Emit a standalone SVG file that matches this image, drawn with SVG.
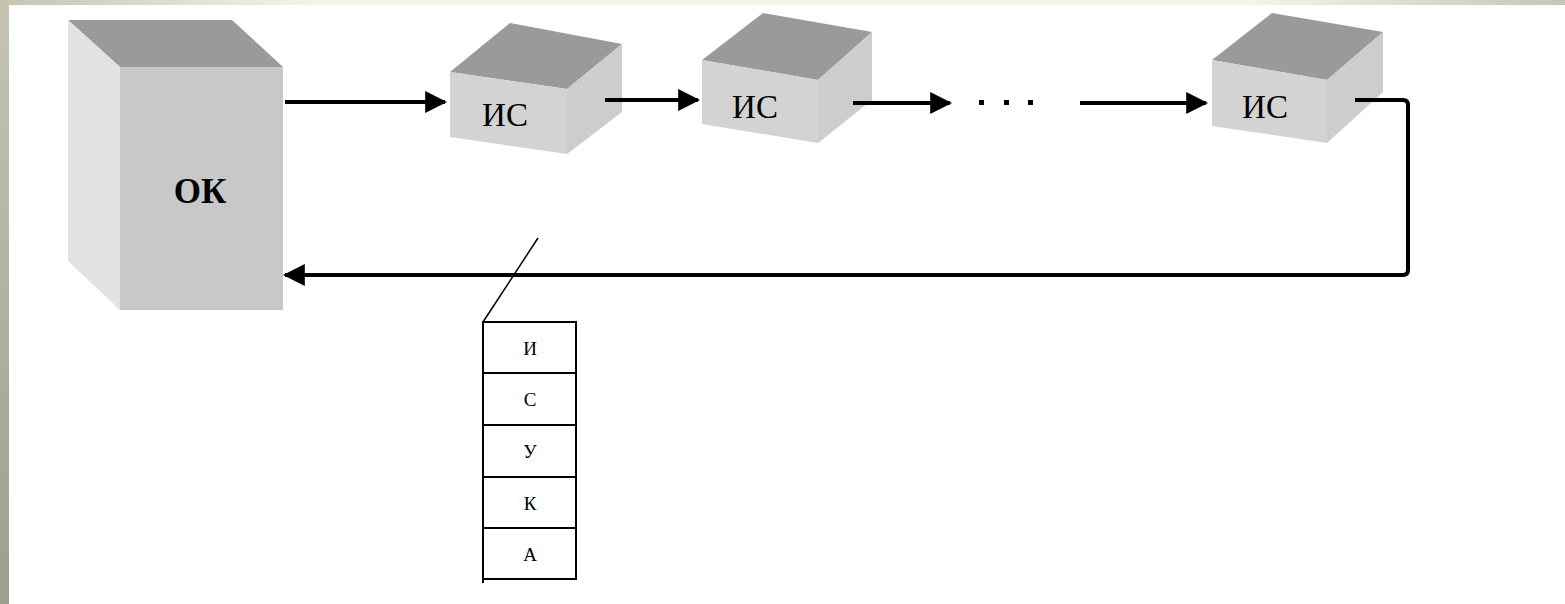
<svg xmlns="http://www.w3.org/2000/svg" width="1565" height="604" viewBox="0 0 1565 604">
  <defs>
    <linearGradient id="topBand" x1="0" y1="0" x2="1" y2="0">
      <stop offset="0" stop-color="#c6c4b0"/>
      <stop offset="0.2" stop-color="#f7f4e1"/>
      <stop offset="0.8" stop-color="#f7f4e1"/>
      <stop offset="1" stop-color="#c8c6b2"/>
    </linearGradient>
    <linearGradient id="sideBand" x1="0" y1="0" x2="0" y2="1">
      <stop offset="0" stop-color="#c6c4b1"/>
      <stop offset="1" stop-color="#9f9e8e"/>
    </linearGradient>
    <marker id="arrow" viewBox="0 0 10 10" refX="9" refY="5" markerWidth="5.5" markerHeight="5.5" orient="auto" markerUnits="strokeWidth">
      <path d="M0,0 L10,5 L0,10 Z" fill="#000"/>
    </marker>
    <style>
      .top { fill: #9a9a9a; }
      .front { fill: #d3d3d3; }
      .side { fill: #cdcdcd; }
      .okfront { fill: #c8c8c8; }
      .okside { fill: #e2e2e2; }
      .flow { fill: none; stroke: #000; stroke-width: 4; marker-end: url(#arrow); }
      .label { font-family: "Liberation Serif", "Times New Roman", serif; fill: #000; }
      .cell { fill: #fff; stroke: #000; stroke-width: 2; }
      .cellText { font-family: "Liberation Serif", "Times New Roman", serif; font-size: 19px; text-anchor: middle; fill: #000; }
    </style>
  </defs>

  <!-- page background with frame bands -->
  <rect x="0" y="0" width="1565" height="604" fill="#ffffff"/>
  <rect x="0" y="0" width="1565" height="5" fill="url(#topBand)"/>
  <rect x="0" y="0" width="9" height="604" fill="url(#sideBand)"/>

  <!-- central unit -->
  <g id="node-ok">
    <polygon class="top" points="68,20 232,20 283,67 120,67"/>
    <polygon class="okside" points="68,20 120,67 120,310 68,261"/>
    <rect class="okfront" x="120" y="67" width="163" height="243"/>
    <text class="label" x="200" y="203" font-size="35" font-weight="bold" text-anchor="middle">ОК</text>
  </g>

  <!-- station 1 -->
  <g id="node-is1">
    <polygon class="top" points="450,72 510,23 622,44 567,89"/>
    <polygon class="front" points="450,72 567,89 567,154 450,137"/>
    <polygon class="side" points="567,89 622,44 622,112 567,154"/>
    <text class="label" x="505" y="126" font-size="33" text-anchor="middle">ИС</text>
  </g>

  <!-- station 2 -->
  <g id="node-is2">
    <polygon class="top" points="702,60 763,13 872,32 818,80"/>
    <polygon class="front" points="702,60 818,80 818,143 702,124"/>
    <polygon class="side" points="818,80 872,32 872,100 818,143"/>
    <text class="label" x="755" y="118" font-size="33" text-anchor="middle">ИС</text>
  </g>

  <!-- station n -->
  <g id="node-is3">
    <polygon class="top" points="1212,60 1272,13 1383,32 1327,80"/>
    <polygon class="front" points="1212,60 1327,80 1327,143 1212,126"/>
    <polygon class="side" points="1327,80 1383,32 1383,92 1327,143"/>
    <text class="label" x="1265" y="118" font-size="33" text-anchor="middle">ИС</text>
  </g>

  <!-- ellipsis between stations -->
  <g id="node-dots" fill="#000">
    <rect x="979" y="100" width="5" height="5"/>
    <rect x="1004" y="100" width="5" height="5"/>
    <rect x="1028" y="100" width="5" height="5"/>
  </g>

  <!-- message frame structure -->
  <g id="node-frame">
    <line x1="483" y1="322" x2="538" y2="238" stroke="#000" stroke-width="1.5"/>
    <rect class="cell" x="483" y="322" width="93" height="51"/>
    <rect class="cell" x="483" y="373" width="93" height="52"/>
    <rect class="cell" x="483" y="425" width="93" height="52"/>
    <rect class="cell" x="483" y="477" width="93" height="51"/>
    <rect class="cell" x="483" y="528" width="93" height="51"/>
    <line x1="483" y1="578" x2="483" y2="583" stroke="#000" stroke-width="2"/>
    <text class="cellText" x="530" y="355">И</text>
    <text class="cellText" x="530" y="406">С</text>
    <text class="cellText" x="530" y="458">У</text>
    <text class="cellText" x="530" y="510">К</text>
    <text class="cellText" x="530" y="561">А</text>
  </g>

  <!-- ring connectors -->
  <g id="connectors">
    <line class="flow" x1="285" y1="102" x2="445" y2="102"/>
    <line class="flow" x1="605" y1="100" x2="698" y2="100"/>
    <line class="flow" x1="853" y1="103" x2="950" y2="103"/>
    <line class="flow" x1="1080" y1="103" x2="1206" y2="103"/>
    <path class="flow" d="M1355,100 L1403,100 Q1408,100 1408,105 L1408,270 Q1408,275 1403,275 L285,275" stroke-linejoin="round"/>
  </g>
</svg>
